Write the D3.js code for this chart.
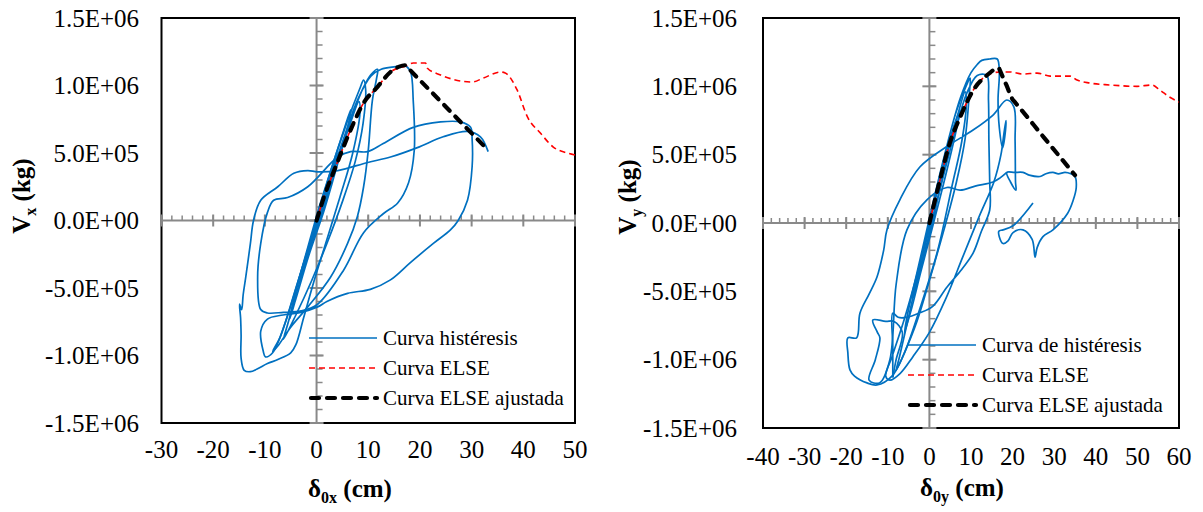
<!DOCTYPE html>
<html>
<head>
<meta charset="utf-8">
<script src="https://cdn.jsdelivr.net/npm/d3@7"></script>
<style>
  body { margin: 0; background: #fff; }
  svg { display: block; font-family: "Liberation Serif", "Times New Roman", serif; }
</style>
</head>
<body>
<script>
const width = 1203;
const height = 512;

// Datos: x en cm, V en 10^6 kg
const MEGA = 1e6;

const xTicksLeft = [-30, -20, -10, 0, 10, 20, 30, 40, 50];
const xTicksRight = [-40, -30, -20, -10, 0, 10, 20, 30, 40, 50, 60];
const yTicks = [-1.5e6, -1.0e6, -5e5, 0, 5e5, 1.0e6, 1.5e6];

const legendLeft = ["Curva histéresis", "Curva ELSE", "Curva ELSE ajustada"];
const legendRight = ["Curva de histéresis", "Curva ELSE", "Curva ELSE ajustada"];

// ---- panel izquierdo (dirección x)
const hystLeftA = [
    [0, 0], [1.5, 0.19], [3, 0.37], [4, 0.5], [3.5, 0.4], [1.8, 0.16], [0, -0.06], [-1.8, -0.27],
    [-3, -0.42], [-2.5, -0.33], [-1, -0.12], [0.5, 0.08], [3, 0.4], [5.2, 0.66], [6.6, 0.82],
    [6.1, 0.7], [4, 0.41], [1.5, 0.08], [-1.5, -0.26], [-4, -0.58], [-5.2, -0.73], [-4.5, -0.6],
    [-2, -0.24], [0.5, 0.1]
];
const hystLeftB = [
    [0.5, 0.1], [3, 0.4], [6, 0.74], [8.3, 0.97], [9.1, 1.04], [9.5, 0.97], [9, 0.72], [7.5, 0.44],
    [5, 0.14], [2, -0.17], [-1, -0.45], [-4, -0.7], [-6.4, -0.88], [-5.6, -0.77], [-3, -0.42],
    [0, -0.04], [3, 0.34], [6, 0.68], [9, 0.98], [10.5, 1.08], [11.8, 1.12], [11.6, 1.05],
    [10.8, 0.89], [10, 0.52], [9.1, 0.25], [7.9, 0.03], [6, -0.17], [2.7, -0.42], [-1.7, -0.64],
    [-5, -0.79], [-7.5, -0.93], [-8.5, -0.97], [-7, -0.86], [-4, -0.5], [-1, -0.13], [2, 0.24],
    [5, 0.58], [8, 0.9], [10.5, 1.07], [12.5, 1.12], [15.3, 1.14], [17.2, 1.15]
];
const hystLeftC = [
    [17.2, 1.15], [18.2, 1.1], [18.7, 0.89], [18.9, 0.52], [17.8, 0.28], [15.7, 0.13], [12.9, 0.05],
    [9.1, -0.09], [5.2, -0.37], [0.2, -0.62], [-3, -0.67], [-6.4, -0.68], [-9.5, -0.685],
    [-10.8, -0.66], [-11.4, -0.42], [-10.8, -0.17], [-9.5, 0.06], [-8.3, 0.15], [-5.6, 0.17],
    [-1.7, 0.25], [4.1, 0.47], [6.6, 0.51], [9.9, 0.51], [12.9, 0.57], [18.7, 0.69], [24, 0.73],
    [27.8, 0.73], [29.8, 0.69], [30.1, 0.6], [30.1, 0.4], [29.2, 0.15], [27.4, 0], [25.9, -0.07],
    [22.6, -0.17], [18.2, -0.31], [14.3, -0.44], [10.4, -0.51], [6, -0.54], [2, -0.6], [0.2, -0.64],
    [-3, -0.68], [-6.5, -0.7], [-9.5, -0.73], [-10.8, -0.82], [-10.3, -0.97], [-9.9, -1.01],
    [-8.5, -0.98], [-6, -0.75], [-3, -0.38], [0, -0.02]
];
const hystLeftD = [
    [0, -0.02], [3, 0.33], [6, 0.66], [8.2, 0.88], [8.4, 0.8], [7, 0.5], [4.5, 0.17], [2, -0.14],
    [-0.5, -0.45], [-2.5, -0.72], [-4, -0.92], [-5, -0.98], [-7.5, -1.03], [-9.5, -1.06],
    [-11.5, -1.1], [-12.8, -1.12], [-14, -1.11], [-14.6, -1.02], [-14.6, -0.85], [-14.7, -0.72],
    [-14.9, -0.62], [-14.5, -0.66], [-14.2, -0.55], [-13.7, -0.42], [-12.8, -0.17], [-12.2, 0],
    [-10.8, 0.15], [-7.5, 0.25], [-4.4, 0.35], [-1.7, 0.37], [0.2, 0.36], [4.1, 0.37], [9.9, 0.43],
    [14.3, 0.47], [19.5, 0.54], [24.5, 0.62], [29.2, 0.66], [31.7, 0.62], [33.2, 0.51]
];
const elseLeft = [
    [0, 0], [1.4, 0.17], [3.67, 0.396], [6.57, 0.67], [9.08, 0.87], [11.8, 0.99], [14.3, 1.1],
    [17.2, 1.144], [18.7, 1.167], [21.1, 1.167], [21.4, 1.13], [24, 1.078], [30.1, 1.026],
    [32.3, 1.056], [35.6, 1.1], [36.5, 1.093], [38.8, 0.967], [40.8, 0.767], [43.3, 0.648],
    [45.8, 0.544], [48.5, 0.5], [50, 0.485]
];
const fitLeft = [
    [0, 0], [1.4, 0.17], [3.67, 0.396], [6.57, 0.67], [9.08, 0.87], [11.8, 0.99], [14.3, 1.1],
    [16, 1.14], [17.2, 1.15], [17.5, 1.138], [25, 0.843], [32.7, 0.54]
];

// ---- panel derecho (dirección y)
const hystRightA = [
    [0, 0], [2, 0.25], [4, 0.5], [4.8, 0.58], [4.2, 0.48], [2, 0.18], [0, -0.08], [-2, -0.3],
    [-4, -0.55], [-3.5, -0.45], [-1.5, -0.17], [0.5, 0.08], [3, 0.4], [6, 0.72], [7.3, 0.82],
    [6.6, 0.7], [4, 0.36], [1, 0], [-2, -0.35], [-4.5, -0.65], [-6, -0.8], [-5.2, -0.66],
    [-2.5, -0.3], [0.5, 0.1]
];
const hystRightB = [
    [0.5, 0.1], [3.5, 0.48], [6.5, 0.82], [8.8, 1.0], [9.8, 1.06], [9.6, 0.95], [8.6, 0.62],
    [6.5, 0.3], [3.5, -0.05], [0, -0.42], [-3, -0.72], [-6, -0.95], [-8, -1.08], [-7.2, -0.98],
    [-4.5, -0.62], [-1.5, -0.2], [1.5, 0.2], [4.5, 0.6], [7.5, 0.92], [10, 1.1], [11.5, 1.16],
    [12.6, 1.19], [14.5, 1.2], [16.3, 1.2], [16.8, 1.1], [16.5, 0.9], [16.8, 0.7], [17.6, 0.55],
    [18.3, 0.68], [18.4, 0.75], [17.9, 0.65], [17.2, 0.5], [15.5, 0.3], [12, 0.05], [8, -0.25],
    [4, -0.55], [0, -0.8], [-4, -0.98], [-7, -1.1], [-9.5, -1.15], [-10.5, -1.12], [-9, -0.98],
    [-6, -0.7], [-3, -0.38], [0, -0.05], [3, 0.3], [6, 0.65], [9, 0.95], [11.5, 1.08], [13.8, 1.08],
    [14.2, 0.9], [14.3, 0.6], [14.5, 0.3], [14.5, 0.095], [12.5, -0.06], [10.5, -0.22], [7.5, -0.35],
    [4.2, -0.47], [0.8, -0.61], [-2.5, -0.66], [-5.4, -0.69], [-7.5, -0.69], [-8.8, -0.66],
    [-8.8, -0.9], [-8.8, -1.13]
];
const hystRightC = [
    [-8.8, -1.13], [-8, -1.0], [-6.5, -0.8], [-8.5, -0.72], [-10.5, -0.72], [-13.6, -0.71],
    [-12.5, -0.8], [-11.9, -0.84], [-13, -1.0], [-14.5, -1.15], [-12, -1.17], [-9.5, -1.0],
    [-8, -0.45], [-5.4, -0.05], [-0.6, 0.17], [4.2, 0.26], [7.4, 0.24], [11, 0.27], [15.3, 0.3],
    [17, 0.33], [18.6, 0.37]
];
const hystRightD = [
    [0, 0.02], [3, 0.36], [6, 0.7], [8.6, 0.96], [8.9, 0.88], [7.8, 0.6], [5.5, 0.28], [2, -0.2],
    [-2, -0.6], [-6, -0.95], [-9, -1.12], [-12.6, -1.185], [-15, -1.17], [-18, -1.12],
    [-19.1, -1.075], [-19.6, -0.95], [-19.6, -0.84], [-17.5, -0.84], [-16.7, -0.66], [-14.5, -0.52],
    [-12.6, -0.395], [-11, -0.2], [-10.2, -0.05], [-7.1, 0.17], [-2.3, 0.41], [4.2, 0.56],
    [10.5, 0.68], [15.3, 0.79], [18.6, 0.9], [20.3, 0.85], [20.6, 0.6], [20.7, 0.3], [20.8, 0.24],
    [19.5, 0.3], [18.6, 0.37], [20.5, 0.37], [22.5, 0.37], [24, 0.35], [26.6, 0.34], [28, 0.36],
    [29.7, 0.37], [31, 0.36], [32.6, 0.37], [34, 0.36], [35, 0.34], [35.3, 0.26], [34.6, 0.17],
    [33.2, 0.07], [29.7, -0.05], [27.3, -0.1], [25.9, -0.18], [25.4, -0.25], [24.7, -0.12],
    [22.5, -0.05], [20.1, -0.07], [18.9, -0.13], [17.7, -0.15], [16.8, -0.1], [16.7, -0.06],
    [17.7, -0.05], [20.1, -0.02], [24.9, 0.146]
];
const elseRight = [
    [0, 0], [2.5, 0.31], [4.9, 0.585], [7.4, 0.775], [10.5, 0.97], [13.8, 1.08], [17, 1.105],
    [19.4, 1.105], [22.5, 1.09], [25.9, 1.097], [29, 1.075], [33.8, 1.075], [35.5, 1.046],
    [38.6, 1.024], [43.4, 1.01], [49.9, 1.0], [53.5, 1.01], [55.4, 0.973], [57.8, 0.92], [60, 0.885]
];
const fitRight = [
    [0, 0], [2.5, 0.31], [4.9, 0.585], [7.4, 0.775], [10.5, 0.97], [13.8, 1.08], [16.7, 1.134],
    [16.9, 1.12], [18.5, 1.01], [20.1, 0.9], [20.3, 0.893], [27.5, 0.627], [35, 0.35]
];

const BLUE = "#0070C0";
const AXIS_GRAY = "#898989";

const svg = d3
    .select("body")
    .append("svg")
    .attr("width", width)
    .attr("height", height);

// formato tipo Excel: 1.5E+06
function fmtExp(v) {
    return v.toExponential(1).toUpperCase().replace(/E([+-])(\d)$/, "E$10$2");
}

const panels = [
    {
        id: "l", xDomain: [-30, 50], xTicks: xTicksLeft,
        left: 161.5, right: 575, top: 18, bottom: 423,
        yLabelX: 139, xLabelY: 458, yTitleX: 30, yTitleY: 196, xTitleX: 350, xTitleY: 497,
        ySub: "x", xSub: "0x",
        hyst: [hystLeftA, hystLeftB, hystLeftC, hystLeftD], els: elseLeft, fit: fitLeft,
        legend: legendLeft, legX: 309, legY: 338
    },
    {
        id: "r", xDomain: [-40, 60], xTicks: xTicksRight,
        left: 763, right: 1179, top: 18, bottom: 428,
        yLabelX: 737, xLabelY: 465, yTitleX: 636, yTitleY: 197, xTitleX: 962, xTitleY: 496,
        ySub: "y", xSub: "0y",
        hyst: [hystRightA, hystRightB, hystRightC, hystRightD], els: elseRight, fit: fitRight,
        legend: legendRight, legX: 908, legY: 345
    }
];

panels.forEach(drawPanel);

function drawPanel(p) {
    const x = d3.scaleLinear().domain(p.xDomain).range([p.left, p.right]);
    const y = d3.scaleLinear().domain([-1.5e6, 1.5e6]).range([p.bottom, p.top]);
    const g = svg.append("g");

    g.append("clipPath").attr("id", "clip-" + p.id)
        .append("rect")
        .attr("x", p.left).attr("y", p.top)
        .attr("width", p.right - p.left).attr("height", p.bottom - p.top);

    g.append("rect")
        .attr("x", p.left).attr("y", p.top)
        .attr("width", p.right - p.left).attr("height", p.bottom - p.top)
        .attr("fill", "#fff").attr("stroke", "#000").attr("stroke-width", 2);

    // ejes grises cruzando en el origen
    const x0 = x(0), y0 = y(0);
    const ax = g.append("g").attr("stroke", AXIS_GRAY);
    ax.append("line").attr("x1", p.left).attr("x2", p.right).attr("y1", y0).attr("y2", y0).attr("stroke-width", 2);
    ax.append("line").attr("x1", x0).attr("x2", x0).attr("y1", p.top).attr("y2", p.bottom).attr("stroke-width", 2);

    const xMinor = x.ticks((p.xDomain[1] - p.xDomain[0]) / 2);
    ax.selectAll(".xm").data(xMinor).join("line")
        .attr("x1", d => x(d)).attr("x2", d => x(d))
        .attr("y1", y0 - 5).attr("y2", y0).attr("stroke-width", 1.5);
    ax.selectAll(".xM").data(p.xTicks).join("line")
        .attr("x1", d => x(d)).attr("x2", d => x(d))
        .attr("y1", y0 - 6).attr("y2", y0 + 6).attr("stroke-width", 2);

    const yMinor = y.ticks(30);
    ax.selectAll(".ym").data(yMinor).join("line")
        .attr("x1", x0).attr("x2", x0 + 6)
        .attr("y1", d => y(d)).attr("y2", d => y(d)).attr("stroke-width", 1.5);
    ax.selectAll(".yM").data(yTicks).join("line")
        .attr("x1", x0 - 7).attr("x2", x0 + 7)
        .attr("y1", d => y(d)).attr("y2", d => y(d)).attr("stroke-width", 2);

    // etiquetas de los ejes
    g.selectAll(".yl").data(yTicks).join("text")
        .attr("x", p.yLabelX).attr("y", d => y(d)).attr("dy", "0.35em")
        .attr("text-anchor", "end").attr("font-size", 25)
        .text(fmtExp);
    g.selectAll(".xl").data(p.xTicks).join("text")
        .attr("x", d => x(d)).attr("y", p.xLabelY)
        .attr("text-anchor", "middle").attr("font-size", 25)
        .text(d => d);

    const yt = g.append("text")
        .attr("transform", `translate(${p.yTitleX},${p.yTitleY}) rotate(-90)`)
        .attr("text-anchor", "middle").attr("font-size", 25).attr("font-weight", "bold");
    yt.append("tspan").text("V");
    yt.append("tspan").attr("font-size", 16).attr("dy", 6).text(p.ySub);
    yt.append("tspan").attr("dy", -6).text(" (kg)");

    const xt = g.append("text")
        .attr("x", p.xTitleX).attr("y", p.xTitleY)
        .attr("text-anchor", "middle").attr("font-size", 25).attr("font-weight", "bold");
    xt.append("tspan").text("δ");
    xt.append("tspan").attr("font-size", 16).attr("dy", 6).text(p.xSub);
    xt.append("tspan").attr("dy", -6).text(" (cm)");

    // curvas
    const curves = g.append("g").attr("clip-path", `url(#clip-${p.id})`).attr("fill", "none");

    const hystLine = d3.line()
        .x(d => x(d[0])).y(d => y(d[1] * MEGA))
        .curve(d3.curveCatmullRom.alpha(0.5));
    const smoothLine = d3.line()
        .x(d => x(d[0])).y(d => y(d[1] * MEGA))
        .curve(d3.curveMonotoneX);

    curves.selectAll(".hyst").data(p.hyst).join("path")
        .attr("d", hystLine)
        .attr("stroke", BLUE).attr("stroke-width", 1.7).attr("stroke-linejoin", "round");

    curves.append("path").attr("d", smoothLine(p.els))
        .attr("stroke", "#FF0000").attr("stroke-width", 1.6).attr("stroke-dasharray", "6,4");

    curves.append("path").attr("d", smoothLine(p.fit))
        .attr("stroke", "#000").attr("stroke-width", 4.2)
        .attr("stroke-dasharray", "8,8").attr("stroke-linecap", "round");

    // leyenda
    const styles = [
        { c: BLUE, w: 1.7, dash: null, cap: "butt" },
        { c: "#FF0000", w: 1.6, dash: "6,4", cap: "butt" },
        { c: "#000", w: 4.2, dash: "8,8", cap: "round" }
    ];
    const leg = g.append("g");
    p.legend.forEach((label, i) => {
        const ly = p.legY + i * 30;
        leg.append("line")
            .attr("x1", p.legX + (i === 2 ? 2 : 0)).attr("x2", p.legX + 68)
            .attr("y1", ly).attr("y2", ly)
            .attr("stroke", styles[i].c).attr("stroke-width", styles[i].w)
            .attr("stroke-dasharray", styles[i].dash).attr("stroke-linecap", styles[i].cap);
        leg.append("text")
            .attr("x", p.legX + 74).attr("y", ly).attr("dy", "0.35em")
            .attr("font-size", 21)
            .text(label);
    });
}
</script>
</body>
</html>
